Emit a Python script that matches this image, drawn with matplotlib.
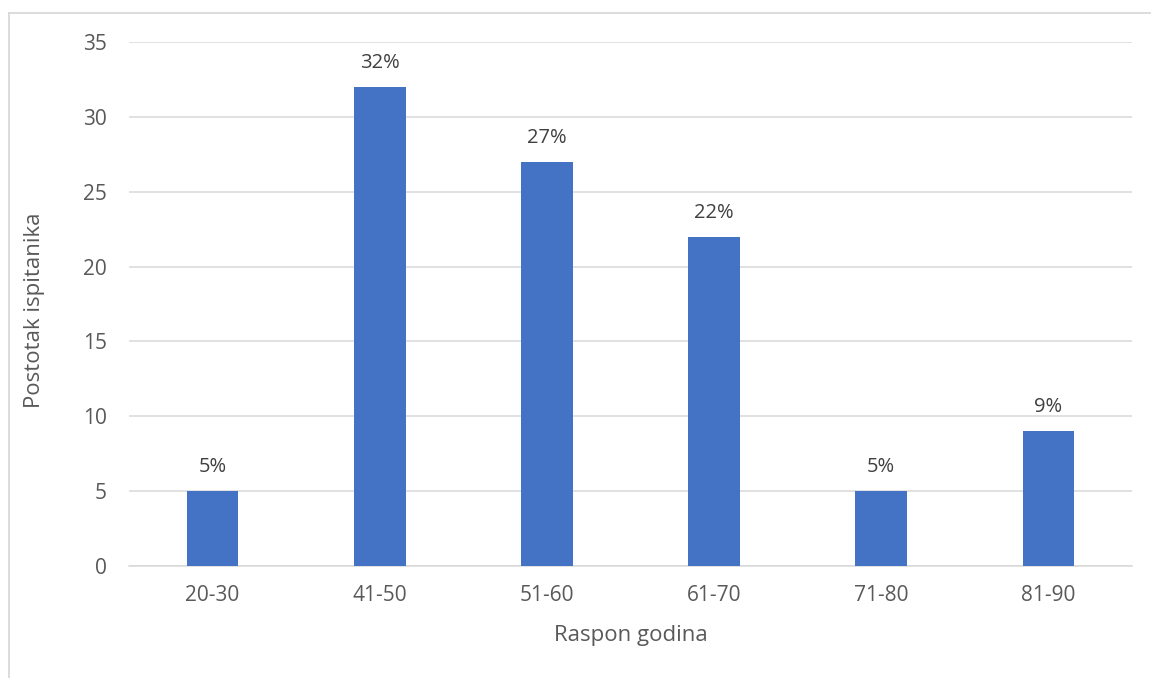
import matplotlib
matplotlib.use("Agg")
import matplotlib.pyplot as plt
from matplotlib.lines import Line2D

# podaci
kategorije = ["20-30", "41-50", "51-60", "61-70", "71-80", "81-90"]
vrijednosti = [5, 32, 27, 22, 5, 9]
oznake = ["5%", "32%", "27%", "22%", "5%", "9%"]

plt.rcParams['font.family'] = ['Open Sans', 'DejaVu Sans']

fig = plt.figure(figsize=(11.51, 6.78), dpi=100)
ax = fig.add_axes([129 / 1151, 1 - 566 / 678, (1132 - 129) / 1151, (566 - 42) / 678])

x = range(len(kategorije))
ax.bar(x, vrijednosti, width=0.31, color="#4472c4", zorder=3)

for xi, v, t in zip(x, vrijednosti, oznake):
    ax.annotate(t, (xi, v), xytext=(0, 10), textcoords="offset points",
                ha="center", va="bottom", fontsize=14.5, color="#404040")

ax.set_xlim(-0.5, len(kategorije) - 0.5)
ax.set_ylim(0, 35)
ax.set_yticks(range(0, 36, 5))
ax.set_xticks(list(x))
ax.set_xticklabels(kategorije)
ax.grid(axis="y", color="#d9d9d9", linewidth=1.1, zorder=0)
ax.tick_params(length=0, labelsize=15, labelcolor="#595959")
ax.tick_params(axis="x", pad=14)
ax.tick_params(axis="y", pad=16)
for s in ["top", "right", "left"]:
    ax.spines[s].set_visible(False)
ax.spines["bottom"].set_color("#d9d9d9")
ax.spines["bottom"].set_linewidth(1.1)

fig.text(35 / 1151, 1 - 310 / 678, "Postotak ispitanika", rotation=90,
         ha="center", va="center", fontsize=16, color="#595959")
fig.text(631 / 1151, 1 - 636 / 678, "Raspon godina",
         ha="center", va="center", fontsize=16, color="#595959")

# okvir grafikona
fig.add_artist(Line2D([8.5 / 1151, 8.5 / 1151], [0, 1 - 12.5 / 678],
                      transform=fig.transFigure, color="#d9d9d9", linewidth=1.3))
fig.add_artist(Line2D([8.5 / 1151, 1], [1 - 12.5 / 678, 1 - 12.5 / 678],
                      transform=fig.transFigure, color="#d9d9d9", linewidth=1.3))

fig.savefig("out.png", dpi=100, facecolor="white")
